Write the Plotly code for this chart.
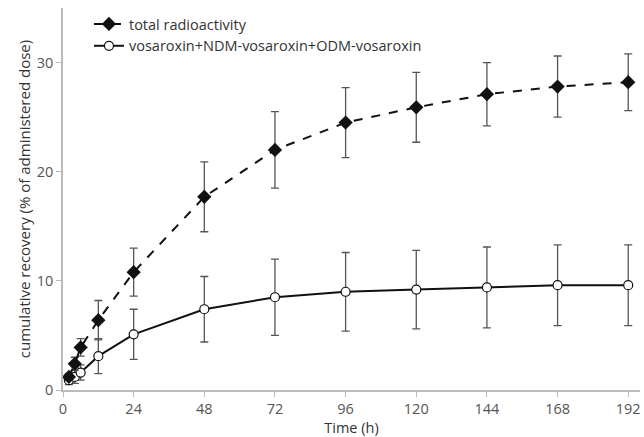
import plotly.graph_objects as go

time_h = [2, 4, 6, 12, 24, 48, 72, 96, 120, 144, 168, 192]
total_mean = [1.2, 2.4, 3.9, 6.4, 10.8, 17.7, 22.0, 24.5, 25.9, 27.1, 27.8, 28.2]
total_sd = [0.3, 0.6, 0.8, 1.8, 2.2, 3.2, 3.5, 3.2, 3.2, 2.9, 2.8, 2.6]
vos_mean = [0.9, 1.2, 1.6, 3.1, 5.1, 7.4, 8.5, 9.0, 9.2, 9.4, 9.6, 9.6]
vos_sd = [0.4, 0.6, 0.7, 1.6, 2.3, 3.0, 3.5, 3.6, 3.6, 3.7, 3.7, 3.7]
x_ticks = [0, 24, 48, 72, 96, 120, 144, 168, 192]
y_ticks = [0, 10, 20, 30]

FONT = "Open Sans, Liberation Sans, Arial, sans-serif"
err_style = dict(type="data", thickness=1.3, width=4, color="#555555")

fig = go.Figure()
fig.add_trace(go.Scatter(
    x=time_h, y=vos_mean, name="vosaroxin+NDM-vosaroxin+ODM-vosaroxin",
    mode="lines+markers",
    line=dict(color="#111111", width=2),
    marker=dict(symbol="circle", size=9, color="white", line=dict(color="#111111", width=1.2)),
    error_y=dict(array=vos_sd, **err_style),
))
fig.add_trace(go.Scatter(
    x=time_h, y=total_mean, name="total radioactivity",
    mode="lines+markers",
    line=dict(color="#111111", width=2, dash="dash"),
    marker=dict(symbol="diamond", size=11, color="#111111"),
    error_y=dict(array=total_sd, **err_style),
))

fig.update_layout(
    width=644, height=437,
    margin=dict(l=63, r=4, t=8, b=47),
    paper_bgcolor="white", plot_bgcolor="white",
    font=dict(family=FONT, size=14, color="#333333"),
    showlegend=True,
    legend=dict(x=0.045, y=1.0, xanchor="left", yanchor="top",
                traceorder="reversed", bgcolor="rgba(0,0,0,0)",
                font=dict(size=14.5, color="#333333"), itemwidth=30,
                tracegroupgap=0),
    xaxis=dict(
        range=[0, 196], tickvals=x_ticks, ticktext=[str(v) for v in x_ticks],
        showgrid=False, zeroline=False, showline=True, linecolor="#bbbbbb", linewidth=1.5,
        ticks="outside", ticklen=5, tickcolor="#bbbbbb",
        title=dict(text="Time (h)", font=dict(size=14.5, color="#333333"), standoff=6),
        tickfont=dict(size=14.5, color="#555555"),
    ),
    yaxis=dict(
        range=[0, 35], tickvals=y_ticks,
        showgrid=False, zeroline=False, showline=True, linecolor="#bbbbbb", linewidth=1.5,
        ticks="outside", ticklen=5, tickcolor="#bbbbbb",
        title=dict(text="cumulative recovery (% of administered dose)", font=dict(size=15, color="#333333"), standoff=3),
        tickfont=dict(size=14.5, color="#555555"),
    ),
)

fig.write_html("out.html")
